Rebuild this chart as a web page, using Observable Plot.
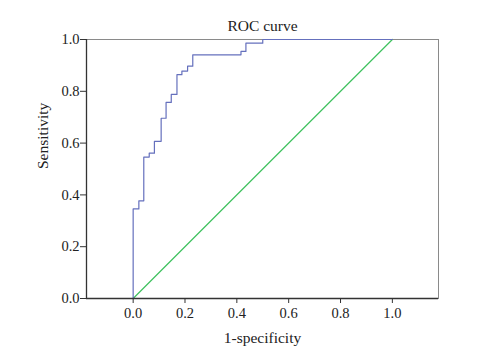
<!DOCTYPE html>
<html>
<head>
<meta charset="utf-8">
<script src="https://cdn.jsdelivr.net/npm/d3@7"></script>
<script src="https://cdn.jsdelivr.net/npm/@observablehq/plot@0.6"></script>
<style>
  html, body { margin: 0; padding: 0; background: #fff; }
  #chart svg { display: block; }
  #chart svg g[aria-label$="tick label"],
  #chart svg g[aria-label$="tick label"] text { font-size: 14.5px !important; }
</style>
</head>
<body>
<div id="chart"></div>
<script>
// ROC curve step vertices (1-specificity, sensitivity)
const fpr = [0, 0, 0.022, 0.041, 0.062, 0.082, 0.108, 0.127, 0.147, 0.169, 0.188, 0.210, 0.230, 0.416, 0.435, 0.500, 1.0];
const tpr = [0, 0.346, 0.377, 0.546, 0.561, 0.607, 0.696, 0.757, 0.788, 0.864, 0.878, 0.897, 0.941, 0.954, 0.986, 1.0, 1.0];
const refX = [0, 1];
const refY = [0, 1];
const tickValues = [0, 0.2, 0.4, 0.6, 0.8, 1.0];
const title = "ROC curve";
const xLabel = "1-specificity";
const yLabel = "Sensitivity";

const roc = fpr.map((x, i) => ({x, y: tpr[i]}));
const diag = refX.map((x, i) => ({x, y: refY[i]}));

const font = "Liberation Serif, Times New Roman, serif";

const chart = Plot.plot({
  width: 481,
  height: 351,
  marginLeft: 86,
  marginRight: 43,
  marginTop: 39,
  marginBottom: 53,
  style: {fontFamily: font, fontSize: "14px", color: "#222", background: "#fff"},
  x: {domain: [-0.18, 1.178]},
  y: {domain: [0, 1]},
  marks: [
    Plot.frame({stroke: "#8a8a8a", strokeWidth: 1}),
    Plot.line(diag, {x: "x", y: "y", stroke: "#3fc25f", strokeWidth: 1.2}),
    Plot.line(roc, {x: "x", y: "y", curve: "step-after", stroke: "#6570bd", strokeWidth: 1.2}),
    Plot.axisX({ticks: tickValues, tickFormat: d3.format(".1f"), tickSize: 5, tickPadding: 4, stroke: "#333", fill: "#222", label: null}),
    Plot.axisY({ticks: tickValues, tickFormat: d3.format(".1f"), tickSize: 6, tickPadding: 1, stroke: "#333", fill: "#222", label: null}),
    Plot.ruleY([0], {stroke: "#333", strokeWidth: 1.3}),
    Plot.ruleX([-0.18], {stroke: "#333", strokeWidth: 1.3}),
    Plot.text([title], {frameAnchor: "top", dy: -20, fontSize: 15.5, fill: "#222"}),
    Plot.text([xLabel], {frameAnchor: "bottom", dy: 44, fontSize: 15.5, fill: "#222"}),
    Plot.text([yLabel], {frameAnchor: "left", dx: -43, rotate: -90, fontSize: 15.5, fill: "#222"})
  ]
});
document.getElementById("chart").appendChild(chart);
</script>
</body>
</html>
